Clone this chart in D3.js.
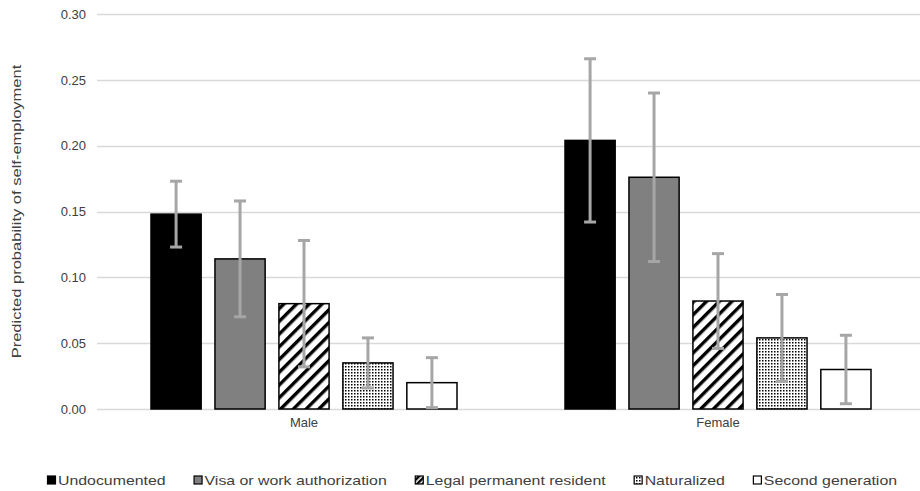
<!DOCTYPE html>
<html>
<head>
<meta charset="utf-8">
<script src="https://cdn.jsdelivr.net/npm/d3@7"></script>
<style>
  html, body { margin: 0; padding: 0; background: #fff; }
  svg { display: block; font-family: "Liberation Sans", Arial, sans-serif; }
</style>
</head>
<body>
<svg id="chart" width="920" height="491"></svg>
<script>
const categories = ["Male", "Female"];
const seriesNames = ["Undocumented", "Visa or work authorization", "Legal permanent resident", "Naturalized", "Second generation"];
const maleValues = [0.148, 0.114, 0.080, 0.035, 0.020];
const femaleValues = [0.204, 0.176, 0.082, 0.054, 0.030];
const maleErrors = [0.025, 0.044, 0.048, 0.019, 0.019];
const femaleErrors = [0.062, 0.064, 0.036, 0.033, 0.026];
const yTicks = [0, 0.05, 0.10, 0.15, 0.20, 0.25, 0.30];
const yTitle = "Predicted probability of self-employment";

const svg = d3.select("#chart");
const defs = svg.append("defs");

// patterns
const stripe = defs.append("pattern").attr("id", "stripe")
  .attr("patternUnits", "userSpaceOnUse").attr("width", 9).attr("height", 9)
  .attr("patternTransform", "rotate(45)");
stripe.append("rect").attr("width", 9).attr("height", 9).attr("fill", "#fff");
stripe.append("rect").attr("x", 0).attr("width", 3.4).attr("height", 9).attr("fill", "#000");

const stripeSmall = defs.append("pattern").attr("id", "stripeSmall")
  .attr("patternUnits", "userSpaceOnUse").attr("width", 4).attr("height", 4)
  .attr("patternTransform", "rotate(45)");
stripeSmall.append("rect").attr("width", 4).attr("height", 4).attr("fill", "#fff");
stripeSmall.append("rect").attr("width", 2.4).attr("height", 4).attr("fill", "#000");

const dots = defs.append("pattern").attr("id", "dots")
  .attr("patternUnits", "userSpaceOnUse").attr("width", 3).attr("height", 3);
dots.append("rect").attr("width", 3).attr("height", 3).attr("fill", "#fff");
dots.append("rect").attr("width", 1.5).attr("height", 1.5).attr("fill", "#000");

const fills = ["#000000", "#808080", "url(#stripe)", "url(#dots)", "#ffffff"];
const legendFills = ["#000000", "#808080", "url(#stripeSmall)", "url(#dots)", "#ffffff"];

const plotLeft = 97, plotRight = 925, plotTop = 14, plotBottom = 409;
const textStretch = 1.22;
const titleStretch = 1.27;

const y = d3.scaleLinear().domain([0, 0.30]).range([plotBottom, plotTop]);
const x0 = d3.scaleBand().domain(categories).range([plotLeft, plotRight]).paddingInner(0).paddingOuter(0);
const groupWidth = 307;
const x1 = d3.scaleBand().domain(seriesNames)
  .range([0, groupWidth]).paddingInner(0.2).paddingOuter(0);

// gridlines
const gridG = svg.append("g");
gridG.selectAll("line").data(yTicks).enter().append("line")
  .attr("x1", plotLeft).attr("x2", 920)
  .attr("y1", d => Math.round(y(d)) + 0.5).attr("y2", d => Math.round(y(d)) + 0.5)
  .attr("stroke", "#d9d9d9").attr("stroke-width", 1.3);

// y axis labels
const yAxis = d3.axisLeft(y).tickValues(yTicks).tickFormat(d3.format(".2f")).tickSize(0).tickPadding(11);
const yAxisG = svg.append("g").attr("transform", `translate(${plotLeft},0)`).call(yAxis);
yAxisG.select(".domain").remove();
yAxisG.selectAll("text").attr("font-size", 13).attr("fill", "#404040")
  .attr("font-family", "Liberation Sans, Arial, sans-serif");

// x axis labels
const xAxis = d3.axisBottom(x0).tickSize(0).tickPadding(9);
const xAxisG = svg.append("g").attr("transform", `translate(0,${plotBottom})`).call(xAxis);
xAxisG.select(".domain").remove();
xAxisG.selectAll("text").attr("font-size", 13).attr("fill", "#404040")
  .attr("font-family", "Liberation Sans, Arial, sans-serif");

// y title
const titleCenter = (plotTop + plotBottom) / 2;
const yt = svg.append("text")
  .attr("transform", `translate(21,0) rotate(-90)`)
  .attr("text-anchor", "start")
  .attr("font-size", 13).attr("fill", "#404040")
  .text(yTitle);
const ytw = yt.node().getComputedTextLength() * titleStretch;
yt.attr("x", -(titleCenter + ytw / 2)).attr("y", 0)
  .attr("textLength", ytw).attr("lengthAdjust", "spacingAndGlyphs");

// bars
const data = [];
categories.forEach((c, ci) => {
  const vals = ci === 0 ? maleValues : femaleValues;
  const errs = ci === 0 ? maleErrors : femaleErrors;
  seriesNames.forEach((s, si) => {
    data.push({cat: c, series: s, si: si, value: vals[si], err: errs[si]});
  });
});

const groupOffset = (x0.bandwidth() - groupWidth) / 2;
const bx = d => x0(d.cat) + groupOffset + x1(d.series);

const barG = svg.append("g");
barG.selectAll("rect").data(data).enter().append("rect")
  .attr("x", d => bx(d) + 0.5)
  .attr("y", d => y(d.value))
  .attr("width", x1.bandwidth() - 1)
  .attr("height", d => y(0) - y(d.value))
  .attr("fill", d => fills[d.si])
  .attr("stroke", "#000")
  .attr("stroke-width", 1.5);

// error bars
const errG = svg.append("g").attr("stroke", "#a6a6a6").attr("stroke-width", 3);
const capW = 12;
data.forEach(d => {
  const cx = bx(d) + x1.bandwidth() / 2;
  const top = y(d.value + d.err), bot = y(Math.max(0, d.value - d.err));
  errG.append("line").attr("x1", cx).attr("x2", cx).attr("y1", top).attr("y2", bot);
  errG.append("line").attr("x1", cx - capW / 2).attr("x2", cx + capW / 2).attr("y1", top).attr("y2", top);
  errG.append("line").attr("x1", cx - capW / 2).attr("x2", cx + capW / 2).attr("y1", bot).attr("y2", bot);
});

// legend
const legendG = svg.append("g");
let lx = 47;
const ly = 480;
seriesNames.forEach((s, i) => {
  legendG.append("rect").attr("x", lx + 0.5).attr("y", ly - 4).attr("width", 8).attr("height", 8)
    .attr("fill", legendFills[i]).attr("stroke", "#000").attr("stroke-width", 1.2);
  const t = legendG.append("text").attr("x", lx + 11).attr("y", ly + 5)
    .attr("font-size", 13).attr("fill", "#404040").text(s);
  const w = t.node().getComputedTextLength() * textStretch;
  t.attr("textLength", w).attr("lengthAdjust", "spacingAndGlyphs");
  lx = lx + 11 + w + 28;
});
</script>
</body>
</html>
